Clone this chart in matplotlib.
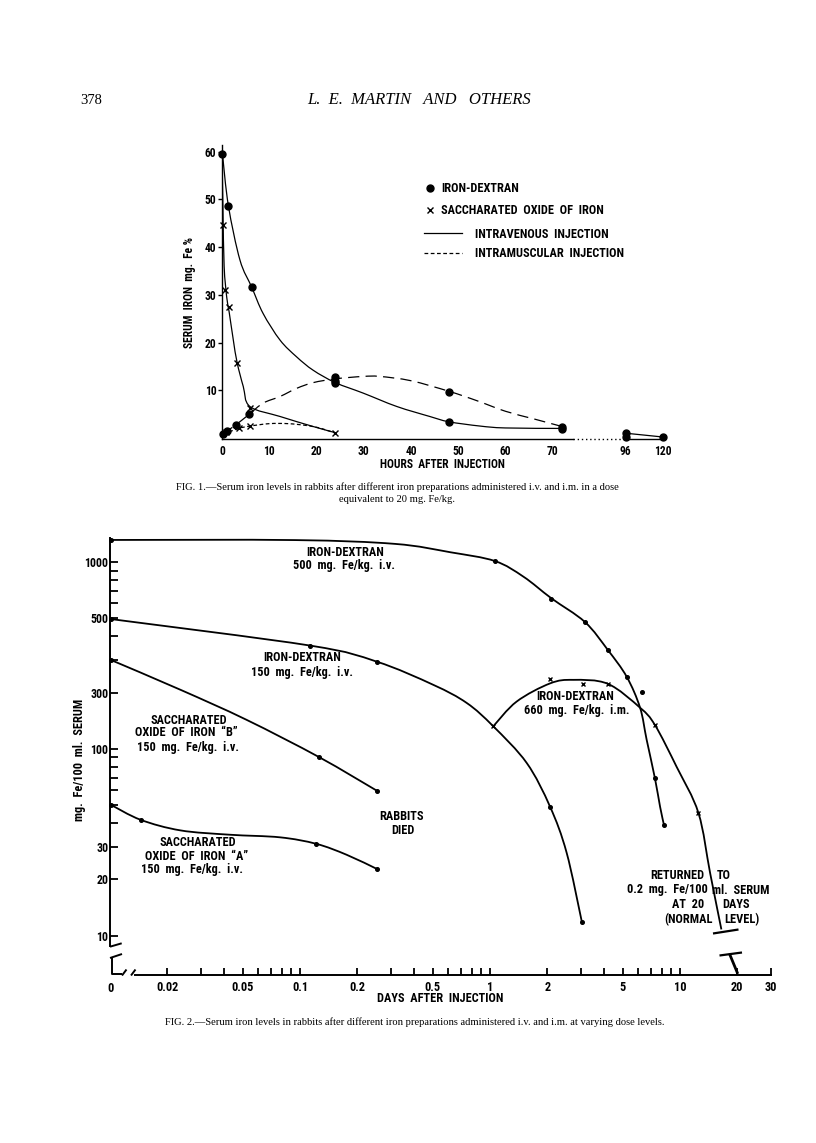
import numpy as np
import matplotlib
matplotlib.use("Agg")
import matplotlib.pyplot as plt
from matplotlib.lines import Line2D
from matplotlib.path import Path
from matplotlib.patches import PathPatch
from matplotlib.ticker import FixedLocator, FixedFormatter, NullFormatter

W, H = 816, 1143
SANS = ["Roboto Condensed", "Liberation Sans", "DejaVu Sans"]
SERIF = ["Liberation Serif", "DejaVu Serif"]

# ---------------- Fig. 1 data (hours, mg Fe %) ----------------
f1_xticks = [0, 10, 20, 30, 40, 50, 60, 70, 96, 120]
f1_yticks = [10, 20, 30, 40, 50, 60]

# iron-dextran i.v. (solid line, dots)
dex_iv_h = [0.1, 1.35, 6.3, 24, 48, 72, 96, 120]
dex_iv_v = [59.5, 48.7, 31.6, 11.5, 3.3, 1.9, 1.0, 0.2]
dex_iv_curve_h = [0.1, 1.35, 3.8, 6.3, 8.7, 12.3, 15.8, 19.3, 24, 29.9,
                  37, 44, 48, 54.6, 60, 72]
dex_iv_curve_v = [59.5, 48.7, 37.3, 31.6, 26.1, 20.5, 17.0, 14.2, 11.6,
                  9.4, 6.6, 4.5, 3.4, 2.5, 2.1, 2.0]
dex_iv_tail_h = [96, 120]
dex_iv_tail_v = [1.0, 0.2]

# iron-dextran i.m. (long dashes, dots)
dex_im_h = [0.3, 1, 3, 5.8, 24, 24, 48, 72, 96]
dex_im_v = [0.8, 1.4, 2.8, 5.0, 12.0, 12.8, 9.7, 2.4, 0.3]
dex_im_curve_h = [0.3, 1, 3, 5.8, 8.7, 12.3, 15.8, 19.3, 24, 29.9, 33.4, 40, 48,
                  54, 60, 66, 72]
dex_im_curve_v = [0.8, 1.4, 2.8, 5.0, 7.3, 8.7, 10.4, 11.6, 12.4, 12.9, 12.9, 12.0,
                  9.8, 7.8, 5.6, 4.0, 2.4]

# saccharated oxide i.v. (solid line, crosses)
sac_iv_h = [0.3, 0.6, 1.5, 3.2, 6.0, 24]
sac_iv_v = [44.6, 31.0, 27.5, 15.8, 6.2, 1.1]
sac_iv_curve_h = [0.0, 0.2, 0.45, 1.0, 1.5, 2.4, 3.2, 4.5, 5.9, 12.3, 19.3, 24]
sac_iv_curve_v = [59.0, 48.0, 36.0, 29.5, 26.5, 20.5, 15.8, 10.8, 6.6, 4.5, 2.4, 1.1]

# saccharated oxide i.m. (short dashes, crosses)
sac_im_h = [0.8, 3.5, 6.0]
sac_im_v = [1.2, 2.0, 2.5]
sac_im_curve_h = [0.3, 3.5, 6, 10, 14, 18, 21, 24]
sac_im_curve_v = [0.8, 2.0, 2.5, 3.0, 3.0, 2.6, 2.0, 1.0]

# ---------------- Fig. 2 data (days, mg Fe/100 ml) ----------------
ZERO_DAY = 0.0101     # where "0" sits on the broken log axis
f2_xmajor = [0.02, 0.05, 0.1, 0.2, 0.5, 1, 2, 5, 10, 20, 30]
f2_xlabels = ["0.02", "0.05", "0.1", "0.2", "0.5", "1", "2", "5", "10", "20", "30"]
f2_xminor = [0.03, 0.04, 0.06, 0.07, 0.08, 0.09, 0.3, 0.4, 0.6, 0.7, 0.8, 0.9,
             3, 4, 6, 7, 8, 9]
f2_ymajor = [10, 20, 30, 100, 200, 500, 1000]
f2_ylabels = ["10", "20", "30", "100", "300", "500", "1000"]
f2_yminor = [40, 50, 60, 70, 80, 90, 300, 400, 600, 700, 800, 900]

# iron-dextran 500 mg/kg i.v.
d500_d = [0, 1.06, 2.1, 3.16, 4.17, 5.24, 6.28, 7.38, 8.24]
d500_v = [1312, 1012, 634, 477, 338, 243, 202, 69.4, 38.9]
d500_curve_d = [0, 0.094, 0.316, 0.62, 1.06, 1.5, 2.1, 3.16, 4.17, 5.24, 6.16,
                6.67, 7.38, 7.85, 8.24]
d500_curve_v = [1312, 1310, 1250, 1127, 1012, 834, 640, 477, 338, 243, 166,
                112, 69.4, 49, 38.9]

# iron-dextran 150 mg/kg i.v.
d150_d = [0, 0.113, 0.253, 2.07, 3.04]
d150_v = [495, 357, 293, 49, 11.9]
d150_curve_d = [0, 0.113, 0.253, 0.503, 0.754, 1.04, 1.56, 2.07, 2.53, 3.04]
d150_curve_v = [495, 357, 293, 220, 176, 132, 84, 49, 27.8, 11.9]

# saccharated oxide "B" 150 mg/kg i.v.
sb_d = [0, 0.126, 0.253]
sb_v = [299, 90.3, 59.8]
sb_curve_d = [0, 0.0235, 0.0523, 0.126, 0.253]
sb_curve_v = [299, 207, 143, 90.3, 59.8]

# saccharated oxide "A" 150 mg/kg i.v.
sa_d = [0, 0.0145, 0.122, 0.253]
sa_v = [50.2, 41.7, 31.0, 22.8]
sa_curve_d = [0, 0.0145, 0.0235, 0.0427, 0.0786, 0.122, 0.176, 0.253]
sa_curve_v = [50.2, 41.7, 36.6, 34.7, 33.6, 31.0, 27.1, 22.8]

# iron-dextran 660 mg/kg i.m.
d660_d = [1.04, 2.07, 3.1, 4.16, 7.38, 12.5]
d660_v = [132, 236, 221, 223, 134, 45.3]
d660_curve_d = [1.04, 1.38, 2.07, 2.74, 4.16, 6.16, 7.38, 9.6, 12.5, 14.4, 16.5]
d660_curve_v = [132, 179, 224, 234, 223, 166, 134, 80, 45.3, 21.6, 10.8]
d660_end_d = [18.3, 20]
d660_end_v = [7.9, 6.35]


def fx(x):
    return x / W


def fy(y):
    return 1 - y / H


def zero_to_axis(days):
    return [ZERO_DAY if d == 0 else d for d in days]


def fwd(h):
    h = np.asarray(h, dtype=float)
    return np.where(h <= 72, h, np.where(h <= 96, 72 + (h - 72) * 0.56,
                                         85.44 + (h - 96) * 0.33))


def inv(u):
    u = np.asarray(u, dtype=float)
    return np.where(u <= 72, u, np.where(u <= 85.44, 72 + (u - 72) / 0.56,
                                         96 + (u - 85.44) / 0.33))


def ident(v):
    return np.asarray(v, dtype=float)


def exp10(v):
    return 10.0 ** np.asarray(v, dtype=float)


def smooth_curve(ax, xs, ys, sx, isx, sy, isy, **kw):
    """Hand-drawn style curve: Bezier path through the read points."""
    P = np.column_stack([sx(xs), sy(ys)])
    verts, codes = [P[0]], [Path.MOVETO]
    n = len(P)
    for i in range(n - 1):
        p0 = P[i - 1] if i > 0 else P[i]
        p3 = P[i + 2] if i + 2 < n else P[i + 1]
        verts += [P[i] + (P[i + 1] - p0) / 6, P[i + 1] - (p3 - P[i]) / 6, P[i + 1]]
        codes += [Path.CURVE4] * 3
    V = np.array(verts)
    V = np.column_stack([isx(V[:, 0]), isy(V[:, 1])])
    ax.add_patch(PathPatch(Path(V, codes), fill=False, edgecolor="k", **kw))


fig = plt.figure(figsize=(W / 100, H / 100), dpi=100)


def page_line(xs, ys, lw=1.4):
    fig.add_artist(Line2D([fx(x) for x in xs], [fy(y) for y in ys],
                          transform=fig.transFigure, color="k", lw=lw,
                          solid_capstyle="butt"))


# page header
fig.text(fx(80), fy(100), "378", family=SERIF, size=10.5, va="center")
fig.text(fx(419), fy(100), "L.  E.  MARTIN   AND   OTHERS", family=SERIF,
         style="italic", size=12, ha="center", va="center")

# ================= Fig. 1 =================
F1 = 8.3
ax1 = fig.add_axes([fx(222), fy(439.4), (663 - 222) / W, (439.4 - 144.6) / H])
ax1.set_xscale("function", functions=(fwd, inv))
ax1.set_xlim(0, 120)
ax1.set_ylim(-0.3, 61.5)
for s in ("top", "right"):
    ax1.spines[s].set_visible(False)
ax1.spines["bottom"].set_bounds(0, 76)
ax1.spines["left"].set_linewidth(1.0)
ax1.spines["bottom"].set_linewidth(1.0)
ax1.plot([76, 96], [-0.3, -0.3], ls=(0, (1, 2)), color="k", lw=1.0, clip_on=False)
ax1.plot([96, 120], [-0.3, -0.3], color="k", lw=1.0, clip_on=False)

smooth_curve(ax1, dex_iv_curve_h, dex_iv_curve_v, fwd, inv, ident, ident, lw=0.9)
ax1.plot(dex_iv_tail_h, dex_iv_tail_v, color="k", lw=0.9)
smooth_curve(ax1, dex_im_curve_h, dex_im_curve_v, fwd, inv, ident, ident, lw=0.9,
             linestyle=(0, (9, 5)))
smooth_curve(ax1, sac_iv_curve_h, sac_iv_curve_v, fwd, inv, ident, ident, lw=0.9)
smooth_curve(ax1, sac_im_curve_h, sac_im_curve_v, fwd, inv, ident, ident, lw=0.9,
             linestyle=(0, (3, 2)))
ax1.plot(dex_iv_h, dex_iv_v, "o", color="k", ms=5, clip_on=False)
ax1.plot(dex_im_h, dex_im_v, "o", color="k", ms=5, clip_on=False)
ax1.plot(sac_iv_h, sac_iv_v, "x", color="k", ms=4, mew=1.0, clip_on=False)
ax1.plot(sac_im_h, sac_im_v, "x", color="k", ms=4, mew=1.0, clip_on=False)

ax1.set_xticks(f1_xticks)
ax1.set_xticklabels([str(t) for t in f1_xticks])
ax1.set_yticks(f1_yticks)
ax1.set_yticklabels([str(t) for t in f1_yticks])
ax1.tick_params(axis="x", length=0, pad=4)
ax1.tick_params(axis="y", length=3, width=1.0, direction="out", pad=1)
for lab in ax1.get_xticklabels() + ax1.get_yticklabels():
    lab.set_family(SANS)
    lab.set_weight("bold")
    lab.set_size(F1)
ax1.set_xlabel("HOURS  AFTER  INJECTION", family=SANS, weight="bold", size=F1,
               labelpad=0)
ax1.set_ylabel("SERUM  IRON  mg.  Fe %", family=SANS, weight="bold", size=F1,
               labelpad=6)

mark_handles = [Line2D([], [], ls="none", marker="o", color="k", ms=5),
                Line2D([], [], ls="none", marker="x", color="k", ms=4, mew=1.0)]
leg1 = ax1.legend(mark_handles, ["IRON-DEXTRAN", "SACCHARATED  OXIDE  OF  IRON"],
                  loc="upper left", bbox_to_anchor=(fx(420), fy(176)),
                  bbox_transform=fig.transFigure, numpoints=1,
                  frameon=False, handlelength=0.7, handletextpad=0.5,
                  labelspacing=0.75, borderpad=0,
                  prop={"family": SANS, "weight": "bold", "size": 8.8})
ax1.add_artist(leg1)
line_handles = [Line2D([], [], color="k", lw=0.9),
                Line2D([], [], color="k", lw=0.9, ls=(0, (3, 2)))]
ax1.legend(line_handles, ["INTRAVENOUS  INJECTION", "INTRAMUSCULAR  INJECTION"],
           loc="upper left", bbox_to_anchor=(fx(418), fy(221.5)),
           bbox_transform=fig.transFigure,
           frameon=False, handlelength=3.1, handletextpad=1.1,
           labelspacing=0.55, borderpad=0,
           prop={"family": SANS, "weight": "bold", "size": 8.8})

fig.text(fx(397), fy(487), "FIG. 1.\u2014Serum iron levels in rabbits after different "
         "iron preparations administered i.v. and i.m. in a dose",
         family=SERIF, size=7.6, ha="center", va="center")
fig.text(fx(397), fy(499), "equivalent to 20 mg. Fe/kg.", family=SERIF, size=7.6,
         ha="center", va="center")

# ================= Fig. 2 =================
F2 = 8.8
ax2 = fig.add_axes([fx(110), fy(975), (775 - 110) / W, (975 - 538) / H])
ax2.set_xscale("log")
ax2.set_yscale("log")
ax2.set_xlim(0.01, 31.6)
ax2.set_ylim(6.16, 1344)
for s in ("top", "right"):
    ax2.spines[s].set_visible(False)
ax2.spines["left"].set_bounds(8.85, 1344)
ax2.spines["bottom"].set_bounds(0.0136, 30)
for s in ("left", "bottom"):
    ax2.spines[s].set_linewidth(1.4)

ax2.xaxis.set_major_locator(FixedLocator(f2_xmajor))
ax2.xaxis.set_major_formatter(FixedFormatter(f2_xlabels))
ax2.xaxis.set_minor_locator(FixedLocator(f2_xminor))
ax2.xaxis.set_minor_formatter(NullFormatter())
ax2.yaxis.set_major_locator(FixedLocator(f2_ymajor))
ax2.yaxis.set_major_formatter(FixedFormatter(f2_ylabels))
ax2.yaxis.set_minor_locator(FixedLocator(f2_yminor))
ax2.yaxis.set_minor_formatter(NullFormatter())
ax2.tick_params(axis="x", which="both", direction="in", length=5, width=1.3, pad=4)
ax2.tick_params(axis="y", which="both", direction="in", length=6, width=1.3, pad=1)
for lab in ax2.get_xticklabels():
    lab.set_family(SANS)
    lab.set_weight("bold")
    lab.set_size(F2)
for lab in ax2.get_yticklabels():
    lab.set_family(SANS)
    lab.set_weight("bold")
    lab.set_size(8.6)

lw2 = 1.3
for cd, cv in ((d500_curve_d, d500_curve_v), (d150_curve_d, d150_curve_v),
               (sb_curve_d, sb_curve_v), (sa_curve_d, sa_curve_v),
               (d660_curve_d, d660_curve_v)):
    smooth_curve(ax2, zero_to_axis(cd), cv, np.log10, exp10, np.log10, exp10, lw=lw2)
ax2.plot(d660_end_d, d660_end_v, color="k", lw=2.0, clip_on=False)
for dd, vv in ((d500_d, d500_v), (d150_d, d150_v), (sb_d, sb_v), (sa_d, sa_v)):
    ax2.plot(zero_to_axis(dd), vv, "o", color="k", ms=2.6, clip_on=False)
ax2.plot(d660_d, d660_v, "x", color="k", ms=3.5, mew=1.0, clip_on=False)

# axis breaks
page_line([110, 121.7], [946.7, 943.3])
page_line([110, 122], [958, 954])
page_line([111.7, 111.7, 122], [957, 973.5, 973.5])
page_line([122, 126.5], [975.5, 969.5])
page_line([131, 135.5], [975.5, 969.5])
page_line([713, 738.5], [933.5, 929.5], lw=1.6)
page_line([719.5, 742], [955.5, 952.5], lw=1.6)

TXT = dict(family=SANS, weight="bold", size=F2, ha="center", va="center")
fig.text(fx(111), fy(988), "0", **TXT)
fig.text(fx(345), fy(552.5), "IRON-DEXTRAN", **TXT)
fig.text(fx(344), fy(565.5), "500  mg.  Fe/kg.  i.v.", **TXT)
fig.text(fx(302.5), fy(657.5), "IRON-DEXTRAN", **TXT)
fig.text(fx(302), fy(672.5), "150  mg.  Fe/kg.  i.v.", **TXT)
fig.text(fx(189), fy(720), "SACCHARATED", **TXT)
fig.text(fx(186), fy(733), "OXIDE  OF  IRON  \u201cB\u201d", **TXT)
fig.text(fx(188), fy(748), "150  mg.  Fe/kg.  i.v.", **TXT)
fig.text(fx(198), fy(842.5), "SACCHARATED", **TXT)
fig.text(fx(197), fy(856), "OXIDE  OF  IRON  \u201cA\u201d", **TXT)
fig.text(fx(192), fy(870), "150  mg.  Fe/kg.  i.v.", **TXT)
fig.text(fx(402), fy(816.5), "RABBITS", **TXT)
fig.text(fx(403), fy(830.5), "DIED", **TXT)
fig.text(fx(575), fy(696), "IRON-DEXTRAN", **TXT)
fig.text(fx(577), fy(710.5), "660  mg.  Fe/kg.  i.m.", **TXT)

LT = dict(TXT, ha="right")
RT = dict(TXT, ha="left")
fig.text(fx(704), fy(875.5), "RETURNED", **LT)
fig.text(fx(717), fy(875.5), "TO", **RT)
fig.text(fx(708), fy(890), "0.2  mg.  Fe/100", **LT)
fig.text(fx(712), fy(890), "ml.  SERUM", **RT)
fig.text(fx(704), fy(905), "AT  20", **LT)
fig.text(fx(722), fy(905), "DAYS", **RT)
fig.text(fx(713), fy(919.5), "(NORMAL", **LT)
fig.text(fx(724), fy(919.5), "LEVEL)", **RT)

fig.text(fx(440), fy(998), "DAYS  AFTER  INJECTION", **TXT)
fig.text(fx(79), fy(760), "mg.  Fe/100  ml.  SERUM", rotation=90, **TXT)

fig.text(fx(415), fy(1022), "FIG. 2.\u2014Serum iron levels in rabbits after different "
         "iron preparations administered i.v. and i.m. at varying dose levels.",
         family=SERIF, size=7.6, ha="center", va="center")

fig.savefig("out.png", dpi=100, facecolor="white")
